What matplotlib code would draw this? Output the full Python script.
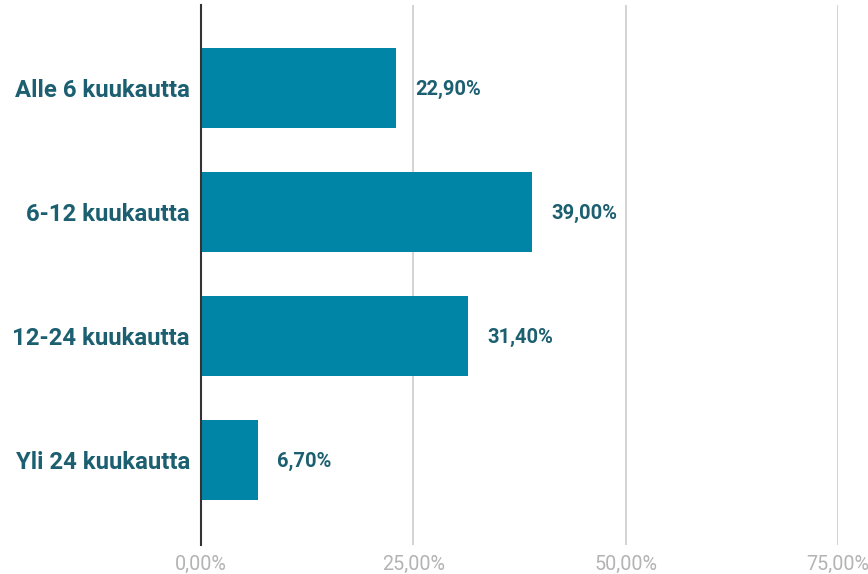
import matplotlib.pyplot as plt

plt.rcParams['font.family'] = ['Roboto', 'DejaVu Sans']

categories = ['Alle 6 kuukautta', '6-12 kuukautta', '12-24 kuukautta', 'Yli 24 kuukautta']
values = [22.9, 39.0, 31.4, 6.7]
value_labels = ['22,90%', '39,00%', '31,40%', '6,70%']
ticks = [0, 25, 50, 75]
tick_labels = ['0,00%', '25,00%', '50,00%', '75,00%']

bar_color = '#0085a7'
text_color = '#1b5f70'

fig = plt.figure(figsize=(8.68, 5.74), dpi=100)
ax = fig.add_axes([0.2316, 0.0505, 0.7338, 0.9405])

y = list(range(len(categories)))
ax.barh(y, values, height=0.645, color=bar_color, zorder=3)

for yi, v, lab in zip(y, values, value_labels):
    ax.text(v + 2.3, yi + 0.01, lab, va='center', ha='left', fontsize=14.5,
            fontweight='bold', color=text_color)

ax.set_xlim(0, 75)
ax.set_ylim(3.685, -0.67)
ax.set_xticks(ticks)
ax.set_xticklabels(tick_labels, fontsize=14.2, color='#b3b3b3')
ax.set_yticks(y)
ax.set_yticklabels(categories, fontsize=17.2, fontweight='bold', color=text_color)
ax.tick_params(axis='both', length=0)
ax.tick_params(axis='x', pad=7)
ax.tick_params(axis='y', pad=8)

ax.grid(axis='x', color='#cccccc', linewidth=1.2, zorder=0)
for s in ['top', 'right', 'bottom']:
    ax.spines[s].set_visible(False)
ax.spines['left'].set_color('#333333')
ax.spines['left'].set_linewidth(1.5)
ax.spines['left'].set_zorder(4)

plt.savefig('out.png', dpi=100)
